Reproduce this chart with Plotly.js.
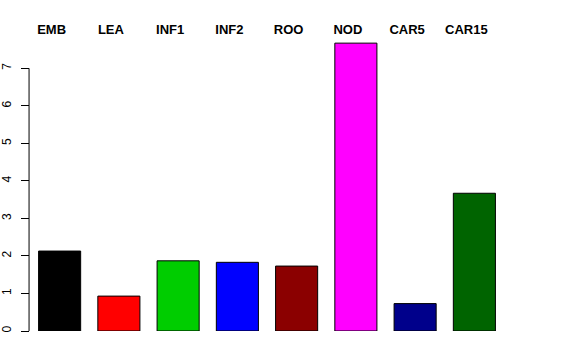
<!DOCTYPE html>
<html>
<head>
<meta charset="utf-8">
<script src="https://cdn.plot.ly/plotly-3.0.1.min.js"></script>
<style>html,body{margin:0;padding:0;background:#fff;}#chart{width:576px;height:360px;}</style>
</head>
<body>
<div id="chart"></div>
<script>
var categories = ["EMB", "LEA", "INF1", "INF2", "ROO", "NOD", "CAR5", "CAR15"];
var values = [2.13, 0.93, 1.87, 1.83, 1.73, 7.67, 0.73, 3.67];
var barColors = ["#000000", "#FF0000", "#00CD00", "#0000FF", "#8B0000", "#FF00FF", "#00008B", "#006400"];
var yTicks = [0, 1, 2, 3, 4, 5, 6, 7];

var trace = {
  type: "bar",
  x: categories,
  y: values,
  marker: { color: barColors, line: { color: "#000000", width: 1 } },
  hoverinfo: "none"
};

var layout = {
  width: 576,
  height: 360,
  margin: { l: 30, r: 72, t: 40, b: 29 },
  paper_bgcolor: "#ffffff",
  plot_bgcolor: "#ffffff",
  showlegend: false,
  bargap: 0.29,
  font: { family: "Liberation Sans, Arial, sans-serif", color: "#000000" },
  xaxis: {
    type: "category",
    side: "top",
    range: [-0.5, categories.length - 0.5],
    showgrid: false,
    zeroline: false,
    showline: false,
    ticks: "",
    ticklabelshift: -8,
    ticklabelstandoff: 2,
    tickfont: { family: "Liberation Sans, Arial, sans-serif", size: 13, color: "#000000", weight: "bold" }
  },
  yaxis: {
    range: [0, 291 / 37.53],
    tickvals: yTicks,
    ticktext: yTicks.map(String),
    tickangle: -90,
    ticks: "outside",
    ticklen: 8,
    tickcolor: "#000000",
    tickwidth: 1,
    ticklabelstandoff: 5,
    showgrid: false,
    zeroline: false,
    showline: false,
    tickfont: { family: "Liberation Sans, Arial, sans-serif", size: 12, color: "#000000" }
  },
  shapes: [{
    type: "line",
    xref: "paper", x0: -0.002, x1: -0.002,
    yref: "y", y0: yTicks[0], y1: yTicks[yTicks.length - 1],
    line: { color: "#000000", width: 1 }
  }]
};

Plotly.newPlot("chart", [trace], layout, { displayModeBar: false, staticPlot: true });
</script>
</body>
</html>
